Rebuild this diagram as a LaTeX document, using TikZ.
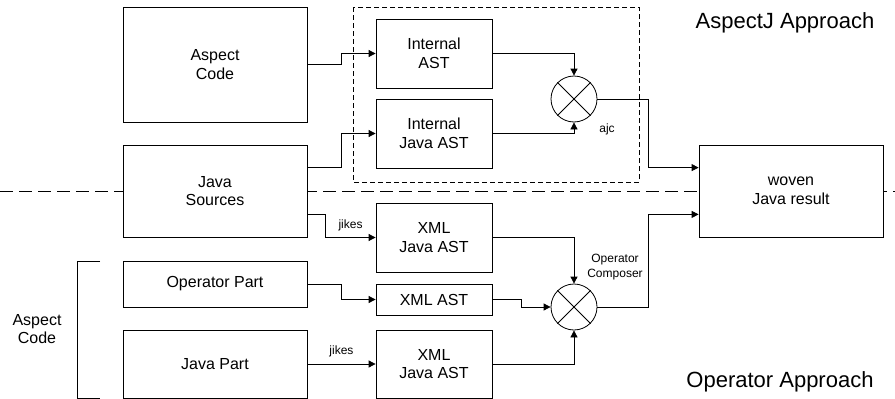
\documentclass[tikz,border=0pt]{standalone}
\usepackage{fontspec}
\setmainfont{Liberation Sans}
\usetikzlibrary{arrows.meta,calc}

\begin{document}
\begin{tikzpicture}[x=1pt, y=-1pt, line width=0.8pt,
    box/.style={rectangle, draw, fill=white, align=center, inner sep=0pt,
      font=\fontsize{16}{18.5}\selectfont},
    junction/.style={circle, draw, fill=white, minimum size=46pt, inner sep=0pt},
    flow/.style={-{Triangle[length=7pt,width=7pt]}},
    small/.style={align=center, font=\fontsize{12}{15}\selectfont},
    big/.style={font=\fontsize{22}{26}\selectfont}
    ]
    \useasboundingbox (0,0) rectangle (895,399);
    \draw[dash pattern=on 13pt off 6pt] (0,191) -- (895,191);
    \draw[dash pattern=on 5pt off 3pt, line width=0.6pt] (353,7) rectangle (639,182);

    \node[box, minimum width=184pt, minimum height=115pt] (aspect) at (215,64.5) {Aspect\\Code};
    \node[box, minimum width=184pt, minimum height=92pt] (java) at (215,191) {Java\\Sources};
    \node[box, minimum width=184pt, minimum height=46pt] (oppart) at (215,284) {Operator Part};
    \node[box, minimum width=184pt, minimum height=68pt] (javapart) at (215,364) {Java Part};

    \node[box, minimum width=116pt, minimum height=69pt] (intast) at (434,53.5) {Internal\\AST};
    \node[box, minimum width=116pt, minimum height=69pt] (intjast) at (434,133.5) {Internal\\Java AST};
    \node[box, minimum width=116pt, minimum height=69pt] (xmljast) at (434,237.5) {XML\\Java AST};
    \node[box, minimum width=116pt, minimum height=31pt] (xmlast) at (434,299.5) {XML AST};
    \node[box, minimum width=116pt, minimum height=68pt] (xmljastb) at (434,364) {XML\\Java AST};

    \node[junction] (ajc) at (574,99) {};
    \node[junction] (composer) at (574,307) {};
    \foreach \j in {ajc, composer}
      \draw (\j.45) -- (\j.225) (\j.135) -- (\j.315);

    \node[box, minimum width=184pt, minimum height=92pt] (woven) at (791,191) {woven\\Java result};

    \node[small] (ajclabel) at (607,129) {ajc};
    \node[small] (composerlabel) at (615,267) {Operator\\Composer};
    \node[big] (aspectj) at (785,23) {AspectJ Approach};
    \node[big] (operator) at (780,382) {Operator Approach};
    \node[box, draw=none, fill=none] (aspectcode) at (37,329) {Aspect\\Code};
    \draw (100,261) -- (77,261) -- (77,398) -- (100,398);

    \draw[flow] (aspect.east) -- ++(34,0) |- (intast.west);
    \draw[flow] ($(java.north east)+(0,23)$) -- ++(34,0) |- (intjast.west);
    \draw[flow] (intast.east) -| (ajc.north);
    \draw[flow] (intjast.east) -| (ajc.south);
    \draw[flow] (ajc.east) -- ++(51,0) |- ($(woven.north west)+(0,23)$);

    \draw[flow] ($(java.south east)+(0,-23)$) -- ++(18,0) |- (xmljast.west)
      node[small, pos=0.75, above=3pt] (jikesa) {jikes};
    \draw[flow] (oppart.east) -- ++(34,0) |- (xmlast.west);
    \draw[flow] (javapart.east) -- (xmljastb.west)
      node[small, midway, above=3pt] (jikesb) {jikes};
    \draw[flow] (xmljast.east) -| (composer.north);
    \draw[flow] (xmlast.east) -- ++(29,0) |- (composer.west);
    \draw[flow] (xmljastb.east) -| (composer.south);
    \draw[flow] (composer.east) -- ++(51,0) |- ($(woven.south west)+(0,-23)$);
\end{tikzpicture}
\end{document}
